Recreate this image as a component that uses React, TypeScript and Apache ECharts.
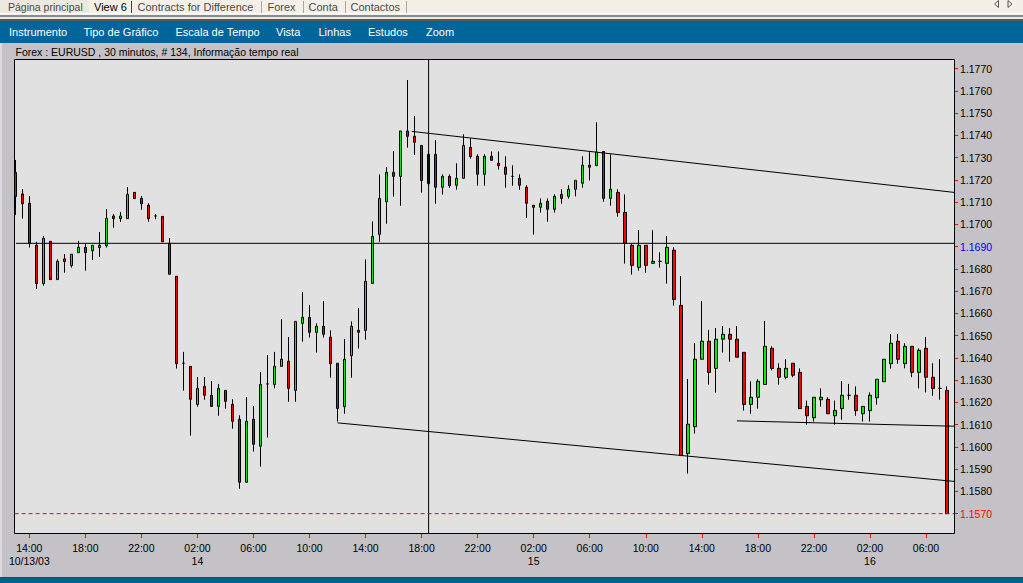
import React, { useEffect, useRef } from "react";
import * as echarts from "echarts";

// EUR/USD, 30-minute bars, 10/13/03 13:00 onwards (134 bars)
const opens = [
  1.17234, 1.17137, 1.17095, 1.16907, 1.16734, 1.16924, 1.16752, 1.16845, 1.16815, 1.16873,
  1.16897, 1.16882, 1.16896, 1.16904, 1.17038, 1.17026, 1.17026, 1.17144, 1.17117, 1.17086,
  1.17038, 1.17036, 1.16915, 1.16767, 1.16376, 1.16362, 1.16191, 1.16272, 1.16232, 1.16182,
  1.16254, 1.16191, 1.16124, 1.15841, 1.16124, 1.16003, 1.16283, 1.16281, 1.16362, 1.16385,
  1.16254, 1.16555, 1.16582, 1.16515, 1.16542, 1.16493, 1.16376, 1.16181, 1.16410, 1.16524,
  1.16524, 1.16735, 1.16955, 1.17102, 1.17234, 1.17216, 1.17420, 1.17396, 1.17355, 1.17183,
  1.17315, 1.17167, 1.17216, 1.17176, 1.17207, 1.17346, 1.17306, 1.17225, 1.17306, 1.17275,
  1.17257, 1.17216, 1.17207, 1.17167, 1.17086, 1.17077, 1.17104, 1.17068, 1.17135, 1.17126,
  1.17158, 1.17185, 1.17266, 1.17264, 1.17328, 1.17117, 1.17144, 1.17054, 1.16906, 1.16807,
  1.16906, 1.16825, 1.16834, 1.16825, 1.16884, 1.16636, 1.15970, 1.16091, 1.16394, 1.16475,
  1.16353, 1.16484, 1.16506, 1.16484, 1.16425, 1.16191, 1.16223, 1.16281, 1.16443, 1.16353,
  1.16313, 1.16376, 1.16335, 1.16182, 1.16131, 1.16212, 1.16214, 1.16140, 1.16172, 1.16232,
  1.16232, 1.16149, 1.16163, 1.16221, 1.16293, 1.16374, 1.16475, 1.16374, 1.16452, 1.16335,
  1.16443, 1.16313, 1.16263, 1.16254,
];
const closes = [
  1.17125, 1.17093, 1.16915, 1.16734, 1.16937, 1.16752, 1.16834, 1.16833, 1.16866, 1.16897,
  1.16873, 1.16906, 1.16906, 1.17027, 1.17026, 1.17038, 1.17135, 1.17116, 1.17093, 1.17026,
  1.17038, 1.16922, 1.16776, 1.16374, 1.16376, 1.16214, 1.16263, 1.16232, 1.16182, 1.16263,
  1.16205, 1.16115, 1.15841, 1.16115, 1.16012, 1.16281, 1.16283, 1.16362, 1.16394, 1.16263,
  1.16564, 1.16582, 1.16515, 1.16542, 1.16506, 1.16374, 1.16173, 1.16394, 1.16542, 1.16515,
  1.16744, 1.16946, 1.17117, 1.17234, 1.17216, 1.17420, 1.17396, 1.17369, 1.17197, 1.17315,
  1.17167, 1.17216, 1.17174, 1.17207, 1.17355, 1.17305, 1.17225, 1.17306, 1.17288, 1.17264,
  1.17225, 1.17216, 1.17176, 1.17095, 1.17077, 1.17095, 1.17068, 1.17126, 1.17117, 1.17158,
  1.17198, 1.17266, 1.17257, 1.17325, 1.17117, 1.17158, 1.17054, 1.16915, 1.16816, 1.16906,
  1.16816, 1.16834, 1.16834, 1.16897, 1.16663, 1.15961, 1.16102, 1.16394, 1.16475, 1.16335,
  1.16484, 1.16506, 1.16484, 1.16403, 1.16191, 1.16223, 1.16295, 1.16452, 1.16353, 1.16313,
  1.16353, 1.16322, 1.16172, 1.16140, 1.16223, 1.16223, 1.16149, 1.16164, 1.16232, 1.16232,
  1.16163, 1.16182, 1.16232, 1.16304, 1.16394, 1.16466, 1.16394, 1.16452, 1.16335, 1.16434,
  1.16313, 1.16263, 1.16263, 1.15700,
];
const lows = [
  1.17042, 1.17026, 1.16896, 1.16710, 1.16725, 1.16752, 1.16752, 1.16783, 1.16806, 1.16873,
  1.16792, 1.16840, 1.16854, 1.16896, 1.16985, 1.17011, 1.17026, 1.17116, 1.17066, 1.17012,
  1.17024, 1.16922, 1.16776, 1.16352, 1.16253, 1.16051, 1.16181, 1.16212, 1.16181, 1.16140,
  1.16172, 1.16082, 1.15812, 1.15841, 1.15979, 1.15911, 1.16042, 1.16263, 1.16362, 1.16203,
  1.16203, 1.16473, 1.16491, 1.16424, 1.16491, 1.16311, 1.16114, 1.16149, 1.16311, 1.16442,
  1.16482, 1.16735, 1.16922, 1.17003, 1.17125, 1.17084, 1.17345, 1.17312, 1.17143, 1.17170,
  1.17093, 1.17134, 1.17165, 1.17156, 1.17207, 1.17296, 1.17174, 1.17174, 1.17288, 1.17246,
  1.17165, 1.17174, 1.17156, 1.17029, 1.16954, 1.17053, 1.17012, 1.17053, 1.17093, 1.17116,
  1.17126, 1.17165, 1.17197, 1.17264, 1.17102, 1.17084, 1.17035, 1.16824, 1.16774, 1.16792,
  1.16783, 1.16825, 1.16806, 1.16734, 1.16635, 1.15961, 1.15880, 1.16060, 1.16394, 1.16280,
  1.16244, 1.16424, 1.16383, 1.16403, 1.16163, 1.16149, 1.16172, 1.16281, 1.16344, 1.16280,
  1.16304, 1.16313, 1.16172, 1.16100, 1.16114, 1.16181, 1.16149, 1.16100, 1.16122, 1.16212,
  1.16140, 1.16114, 1.16114, 1.16190, 1.16293, 1.16352, 1.16374, 1.16353, 1.16313, 1.16263,
  1.16245, 1.16230, 1.16212, 1.15700,
];
const highs = [
  1.17290, 1.17159, 1.17128, 1.16922, 1.16948, 1.16924, 1.16843, 1.16867, 1.16866, 1.16926,
  1.16915, 1.16906, 1.16966, 1.17069, 1.17047, 1.17056, 1.17168, 1.17144, 1.17128, 1.17095,
  1.17047, 1.17036, 1.16939, 1.16767, 1.16427, 1.16362, 1.16314, 1.16314, 1.16296, 1.16283,
  1.16254, 1.16214, 1.16142, 1.16224, 1.16184, 1.16337, 1.16413, 1.16427, 1.16575, 1.16494,
  1.16564, 1.16696, 1.16638, 1.16555, 1.16656, 1.16524, 1.16376, 1.16485, 1.16564, 1.16624,
  1.16843, 1.17014, 1.17225, 1.17257, 1.17330, 1.17420, 1.17649, 1.17487, 1.17355, 1.17330,
  1.17379, 1.17225, 1.17225, 1.17275, 1.17405, 1.17387, 1.17315, 1.17315, 1.17328, 1.17328,
  1.17306, 1.17266, 1.17225, 1.17176, 1.17086, 1.17117, 1.17117, 1.17135, 1.17158, 1.17176,
  1.17198, 1.17306, 1.17325, 1.17459, 1.17328, 1.17315, 1.17158, 1.17135, 1.16912, 1.16975,
  1.16906, 1.16975, 1.16875, 1.16948, 1.16897, 1.16768, 1.16305, 1.16467, 1.16656, 1.16526,
  1.16534, 1.16543, 1.16534, 1.16543, 1.16425, 1.16295, 1.16304, 1.16566, 1.16452, 1.16376,
  1.16394, 1.16376, 1.16353, 1.16208, 1.16223, 1.16263, 1.16223, 1.16208, 1.16296, 1.16283,
  1.16272, 1.16182, 1.16245, 1.16304, 1.16394, 1.16508, 1.16508, 1.16466, 1.16452, 1.16443,
  1.16494, 1.16376, 1.16394, 1.16272,
];

// Time-axis ticks: bar index, clock label and date label
const xTickIdx = [2, 10, 18, 26, 34, 42, 50, 58, 66, 74, 82, 90, 98, 106, 114, 122, 130];
const xTickTimes = [
  "14:00", "18:00", "22:00", "02:00", "06:00", "10:00", "14:00", "18:00", "22:00",
  "02:00", "06:00", "10:00", "14:00", "18:00", "22:00", "02:00", "06:00",
];
const xTickDates = ["10/13/03", "", "", "14", "", "", "", "", "", "15", "", "", "", "", "", "16", ""];

// Price-axis labels
const yTicks = [
  1.157, 1.158, 1.159, 1.16, 1.161, 1.162, 1.163, 1.164, 1.165, 1.166, 1.167,
  1.168, 1.169, 1.17, 1.171, 1.172, 1.173, 1.174, 1.175, 1.176, 1.177,
];
const yMin = 1.15613;
const yMax = 1.177435;

// Drawn studies
const upperTrend = [[56.6, 1.17418], [134.0, 1.17144]];
const lowerTrend = [[46.0, 1.16108], [134.0, 1.15845]];
const supportLine = [[103.0, 1.16117], [134.0, 1.16093]];
const crossIndex = 59;
const crossPrice = 1.16915;
const lastPrice = 1.157;

const tabs = ["Página principal", "View 6", "Contracts for Difference", "Forex", "Conta", "Contactos"];
const tabX = [8, 94, 137.5, 267.5, 308.5, 350.5];
const tabSeparators = [131.5, 261.5, 303.5, 345.5, 406.5];
const menuItems = ["Instrumento", "Tipo de Gráfico", "Escala de Tempo", "Vista", "Linhas", "Estudos", "Zoom"];
const menuX = [9, 83.5, 175.5, 276, 318.5, 368, 426];
const chartTitle = "Forex : EURUSD , 30 minutos, # 134, Informação tempo real";

const FONT = "'Liberation Sans', Arial, sans-serif";

export default function App() {
  const ref = useRef<HTMLDivElement>(null);

  useEffect(() => {
    if (!ref.current) return;
    const chart = echarts.init(ref.current, undefined, { renderer: "svg" });

    const candles = opens.map((o, i) => [i, o, closes[i], lows[i], highs[i]]);
    const lineStyle = { color: "#000000", width: 1 };
    const studyLine = (data: number[][], extra: any = {}) => ({
      type: "line",
      data,
      symbol: "none",
      silent: true,
      z: 5,
      lineStyle: { ...lineStyle, ...extra },
    });

    const graphic: any[] = [
      // tab strip
      { type: "rect", shape: { x: 0, y: 0, width: 1023, height: 15 }, style: { fill: "#f4f0e8" } },
      { type: "rect", shape: { x: 0, y: 0, width: 89, height: 13 }, style: { fill: "#ebe8e0" } },
      { type: "rect", shape: { x: 0, y: 13, width: 1023, height: 1 }, style: { fill: "#ffffff" } },
      { type: "rect", shape: { x: 0, y: 15, width: 1023, height: 2 }, style: { fill: "#8c8c8c" } },
      { type: "rect", shape: { x: 0, y: 17, width: 1023, height: 2 }, style: { fill: "#ece8e0" } },
      { type: "rect", shape: { x: 0, y: 19, width: 1023, height: 2 }, style: { fill: "#5a5a5a" } },
      // menu bar
      { type: "rect", shape: { x: 0, y: 21, width: 1023, height: 22 }, style: { fill: "#006699" } },
      // status bar
      { type: "rect", shape: { x: 0, y: 577, width: 1023, height: 1 }, style: { fill: "#1d4a66" } },
      { type: "rect", shape: { x: 0, y: 578, width: 1023, height: 5 }, style: { fill: "#00628f" } },
      { type: "rect", shape: { x: 0, y: 43, width: 2, height: 534 }, style: { fill: "#dcdadf" } },
      // frame of the price panel, drawn above the axes
      {
        type: "rect",
        z: 100,
        silent: true,
        shape: { x: 14.5, y: 59.5, width: 940, height: 474 },
        style: { fill: "none", stroke: "#000000", lineWidth: 1 },
      },
      // scroll arrows
      {
        type: "polygon",
        shape: { points: [[998.5, 0.5], [998.5, 7.5], [994.5, 4]] },
        style: { fill: "#f4f0e8", stroke: "#555555", lineWidth: 1 },
      },
      {
        type: "polygon",
        shape: { points: [[1008, 0.5], [1008, 7.5], [1012, 4]] },
        style: { fill: "#f4f0e8", stroke: "#555555", lineWidth: 1 },
      },
      {
        type: "text",
        x: 15.5,
        y: 52,
        style: { text: chartTitle, fill: "#000000", font: `10.5px ${FONT}`, textVerticalAlign: "middle" },
      },
    ];
    tabSeparators.forEach((x, i) => {
      graphic.push({
        type: "line",
        shape: { x1: x, y1: 1, x2: x, y2: 13 },
        style: { stroke: i === 0 ? "#404040" : "#a8a8a8", lineWidth: 1 },
      });
    });
    tabs.forEach((t, i) => {
      graphic.push({
        type: "text",
        x: tabX[i],
        y: 6.5,
        style: {
          text: t,
          fill: i === 1 ? "#000000" : "#4a4a4a",
          font: `${i === 0 ? 10.5 : 11}px ${FONT}`,
          textVerticalAlign: "middle",
        },
      });
    });
    menuItems.forEach((t, i) => {
      graphic.push({
        type: "text",
        x: menuX[i],
        y: 31.5,
        style: { text: t, fill: "#ffffff", font: `11px ${FONT}`, textVerticalAlign: "middle" },
      });
    });

    chart.setOption({
      animation: false,
      backgroundColor: "#c4c2c6",
      graphic,
      grid: {
        left: 14,
        top: 59,
        width: 940,
        height: 474,
        show: true,
        backgroundColor: "#e1e1e1",
        borderColor: "#000000",
        borderWidth: 0,
        containLabel: false,
      },
      xAxis: {
        type: "value",
        min: -0.186,
        max: 134.0,
        splitLine: { show: false },
        axisLine: { show: false, onZero: false, lineStyle: { color: "#000000" } },
        axisTick: {
          show: true,
          inside: false,
          customValues: xTickIdx,
          length: 5,
          lineStyle: { color: "#ff0000", width: 1 },
        },
        axisLabel: {
          customValues: xTickIdx,
          margin: 8,
          color: "#000000",
          fontFamily: FONT,
          fontSize: 10.5,
          lineHeight: 13,
          formatter: (v: number) => {
            const k = xTickIdx.indexOf(Math.round(v));
            if (k < 0) return "";
            return xTickDates[k] ? `${xTickTimes[k]}\n${xTickDates[k]}` : xTickTimes[k];
          },
        },
      },
      yAxis: {
        type: "value",
        position: "right",
        min: yMin,
        max: yMax,
        splitLine: { show: false },
        axisLine: { show: false, onZero: false, lineStyle: { color: "#000000" } },
        axisTick: {
          show: true,
          inside: false,
          customValues: yTicks,
          length: 4,
          lineStyle: { color: "#ff0000", width: 1 },
        },
        axisLabel: {
          customValues: yTicks,
          margin: 6,
          fontFamily: FONT,
          fontSize: 10.5,
          formatter: (v: number) => {
            const s = Number(v).toFixed(4);
            if (Math.abs(v - 1.169) < 1e-7) return `{cross|${s}}`;
            if (Math.abs(v - lastPrice) < 1e-7) return `{last|${s}}`;
            return `{n|${s}}`;
          },
          rich: {
            n: { color: "#000000", fontFamily: FONT, fontSize: 10.5 },
            cross: { color: "#0000ff", fontFamily: FONT, fontSize: 10.5 },
            last: { color: "#ff0000", fontFamily: FONT, fontSize: 10.5 },
          },
        },
      },
      series: [
        {
          type: "candlestick",
          data: candles,
          barWidth: 3,
          clip: true,
          z: 3,
          itemStyle: {
            color: "#00f000",
            color0: "#ff0000",
            borderColor: "#000000",
            borderColor0: "#000000",
            borderColorDoji: "#000000",
            borderWidth: 1,
          },
        },
        studyLine(upperTrend),
        studyLine(lowerTrend),
        studyLine(supportLine),
        studyLine([[crossIndex, yMax], [crossIndex, yMin]]),
        studyLine([[0.1, crossPrice], [134.0, crossPrice]]),
        studyLine([[-0.1, lastPrice], [134.0, lastPrice]], { color: "#ff0000", type: [4, 3] }),
      ],
    });

    return () => chart.dispose();
  }, []);

  return (
    <div
      ref={ref}
      style={{ position: "fixed", left: 0, top: 0, width: 1023, height: 583 }}
    />
  );
}
